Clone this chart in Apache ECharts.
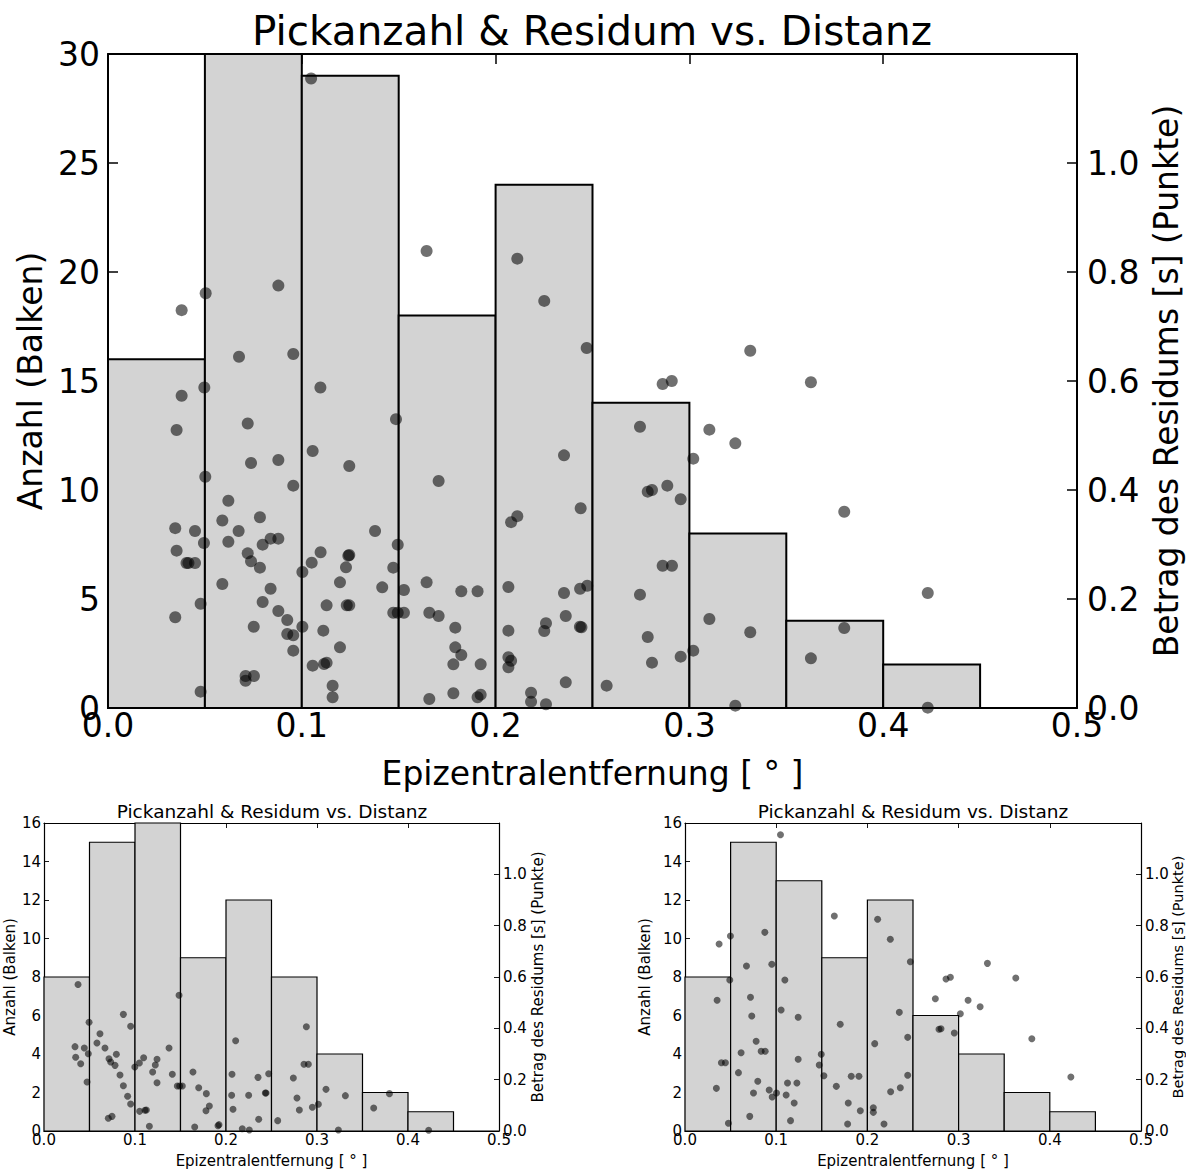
<!DOCTYPE html>
<html>
<head>
<meta charset="utf-8">
<script src="https://cdn.jsdelivr.net/npm/echarts@6/dist/echarts.min.js"></script>
<style>
html,body{margin:0;padding:0;background:#fff;}
#chart{width:1186px;height:1173px;}
</style>
</head>
<body>
<div id="chart"></div>
<script>
// ---------- DATA ----------
const chartTitle = 'Pickanzahl & Residum vs. Distanz';
const xName = 'Epizentralentfernung [ ° ]';
const yLeftName = 'Anzahl (Balken)';
const yRightName = 'Betrag des Residums [s] (Punkte)';

const binEdges = [0.00, 0.05, 0.10, 0.15, 0.20, 0.25, 0.30, 0.35, 0.40, 0.45, 0.50];
const countsTop   = [16, 30, 29, 18, 24, 14, 8, 4, 2, 0];
const countsLeft  = [8, 15, 16, 9, 12, 8, 4, 2, 1, 0];
const countsRight = [8, 15, 13, 9, 12, 6, 4, 2, 1, 0];

// [distance in deg, |residual| in s]
const pointsTop = [
 [0.1048,1.155],[0.038,0.730],[0.0504,0.761],[0.0879,0.775],[0.1644,0.8385],[0.2112,0.8245],[0.2251,0.747],
 [0.247,0.6606],[0.0676,0.6446],[0.0956,0.6495],[0.0497,0.588],[0.038,0.573],[0.1096,0.588],
 [0.3314,0.6556],[0.2862,0.5945],[0.2909,0.600],[0.3627,0.5976],
 [0.0354,0.510],[0.0721,0.522],[0.0738,0.4495],[0.0879,0.455],[0.0502,0.4244],[0.0956,0.408],[0.1056,0.4716],
 [0.1245,0.444],[0.1486,0.530],[0.1706,0.4165],[0.2353,0.4636],[0.2439,0.3664],[0.208,0.341],[0.2112,0.352],
 [0.0621,0.3804],[0.059,0.344],[0.0784,0.350],[0.0347,0.330],[0.0449,0.3248],[0.0674,0.3248],[0.0621,0.305],
 [0.0495,0.3028],[0.0839,0.3107],[0.0879,0.3107],[0.0798,0.2997],[0.0354,0.2887],[0.0721,0.2838],[0.0738,0.2691],
 [0.0784,0.2575],[0.0405,0.266],[0.0415,0.266],[0.0449,0.266],[0.1378,0.3248],[0.1495,0.2997],[0.1245,0.2807],
 [0.1240,0.2795],[0.1097,0.2857],[0.1051,0.2667],[0.1003,0.2495],[0.1228,0.2581],[0.1472,0.2575],[0.059,0.2275],
 [0.0839,0.2189],[0.1197,0.2306],[0.1415,0.2214],[0.1527,0.2165],[0.1644,0.2306],[0.1823,0.214],[0.1907,0.214],
 [0.2066,0.222],[0.2353,0.211],[0.2436,0.2189],[0.2473,0.2244],[0.0478,0.1914],[0.0798,0.1945],[0.1128,0.1884],
 [0.1232,0.1884],[0.1245,0.1884],[0.1472,0.1749],[0.1495,0.1749],[0.1527,0.1749],[0.1658,0.1749],[0.1706,0.1688],
 [0.0347,0.1664],[0.0879,0.178],[0.0925,0.1615],[0.2362,0.1688],[0.226,0.1554],[0.2251,0.1413],[0.2435,0.1492],
 [0.2443,0.1482],[0.0752,0.1492],[0.1003,0.1492],[0.1111,0.1419],[0.0925,0.1358],[0.0956,0.1334],[0.1792,0.1474],
 [0.2066,0.1419],[0.0956,0.1052],[0.1197,0.1113],[0.1792,0.1113],[0.1823,0.0972],[0.1782,0.0801],[0.1923,0.0801],
 [0.1056,0.0777],[0.1115,0.0807],[0.1128,0.0832],[0.2066,0.093],[0.208,0.0868],[0.2066,0.0747],[0.071,0.0587],
 [0.071,0.0501],[0.0753,0.0587],[0.1159,0.0410],[0.1159,0.0196],[0.0478,0.030],[0.1658,0.0165],[0.1782,0.027],
 [0.1907,0.0196],[0.1923,0.0245],[0.2183,0.0281],[0.2183,0.0116],[0.226,0.0068],[0.2362,0.0471],
 [0.2745,0.516],[0.3103,0.5107],[0.3237,0.4856],[0.302,0.4575],[0.2886,0.408],[0.2785,0.397],[0.2807,0.400],
 [0.2955,0.383],[0.3799,0.360],[0.2862,0.261],[0.291,0.261],[0.2745,0.208],[0.423,0.211],[0.3103,0.1633],
 [0.3314,0.1389],[0.3799,0.1468],[0.2785,0.1303],[0.302,0.1052],[0.2955,0.0942],[0.2807,0.0832],[0.3627,0.0911],
 [0.2573,0.0410],[0.3237,0.0043],[0.423,0.0006]
];

const pointsLeft = [
 [0.0374,0.571],[0.0341,0.3286],[0.0348,0.287],[0.0403,0.2623],[0.0443,0.3234],[0.0495,0.4234],[0.0487,0.3013],
 [0.0473,0.1909],[0.0582,0.3429],[0.0615,0.3792],[0.067,0.3234],[0.0714,0.2818],[0.0733,0.2688],[0.078,0.2558],
 [0.0795,0.2987],[0.0707,0.0494],[0.0747,0.0571],[0.0835,0.2182],[0.0872,0.4545],[0.0872,0.1766],[0.0919,0.1351],
 [0.0952,0.4078],[0.0952,0.1052],[0.0998,0.2494],[0.1048,0.2649],[0.1095,0.2857],[0.1051,0.0766],[0.111,0.0805],
 [0.1125,0.0818],[0.1158,0.0182],[0.1194,0.2299],[0.1223,0.2571],[0.1242,0.2792],[0.1242,0.1883],[0.1374,0.3234],
 [0.141,0.2208],[0.1484,0.5286],[0.1465,0.1753],[0.1491,0.1753],[0.152,0.1753],[0.1637,0.2299],[0.1656,0.0156],
 [0.17,0.1688],[0.1784,0.1455],[0.178,0.0792],[0.1817,0.0974],[0.1912,0.0208],[0.1923,0.0247],[0.2066,0.2208],
 [0.2106,0.3519],[0.2062,0.139],[0.2077,0.0844],[0.2179,0.0091],[0.2249,0.139],[0.2256,0.0039],[0.2352,0.209],
 [0.2359,0.0455],[0.2432,0.148],[0.2440,0.148],[0.2469,0.2232],[0.2568,0.0403],[0.2883,0.4064],[0.2857,0.26],
 [0.2905,0.26],[0.274,0.2065],[0.278,0.1286],[0.2806,0.0818],[0.2949,0.0922],[0.3015,0.104],[0.3099,0.1623],
 [0.3312,0.1377],[0.3235,0.004],[0.3623,0.0896],[0.3796,0.1455],[0.4227,0.0026]
];

const pointsRight = [
 [0.1047,1.1545],[0.0374,0.7286],[0.0498,0.7597],[0.0875,0.774],[0.1637,0.8377],[0.2112,0.8247],[0.2251,0.7468],
 [0.2471,0.6597],[0.0674,0.6429],[0.0952,0.6494],[0.0491,0.5883],[0.1095,0.5883],[0.0352,0.5091],[0.0718,0.5208],
 [0.0732,0.448],[0.1054,0.4714],[0.1241,0.4429],[0.1702,0.4156],[0.2350,0.4623],[0.078,0.3494],[0.0615,0.3052],
 [0.0399,0.2662],[0.0443,0.2662],[0.0835,0.3104],[0.0879,0.3104],[0.0586,0.2273],[0.0798,0.1935],[0.0344,0.1662],
 [0.0751,0.148],[0.0923,0.1597],[0.0956,0.1325],[0.1003,0.148],[0.0710,0.0571],[0.0476,0.0299],[0.1241,0.2792],
 [0.1124,0.187],[0.1227,0.187],[0.1109,0.1403],[0.1197,0.1091],[0.1157,0.0403],[0.1494,0.2987],[0.1472,0.2571],
 [0.1523,0.2156],[0.1659,0.174],[0.1823,0.213],[0.1907,0.213],[0.179,0.1091],[0.1922,0.0792],[0.1783,0.0273],
 [0.208,0.3403],[0.2065,0.0909],[0.2065,0.0727],[0.2182,0.0273],[0.2255,0.1532],[0.2361,0.1688],[0.2442,0.3649],
 [0.2442,0.2169],[0.3316,0.6532],[0.2862,0.5922],[0.291,0.5987],[0.3627,0.5961],[0.2745,0.5156],[0.3104,0.5091],
 [0.3236,0.4844],[0.3019,0.4571],[0.2785,0.3961],[0.2807,0.3987],[0.2953,0.3818],[0.3803,0.3597],[0.4231,0.2104]
];

// ---------- BUILD ----------
const FONT = '"DejaVu Sans", sans-serif';

function histData(counts) {
  return counts.map((c, i) => [binEdges[i], binEdges[i + 1], c]);
}

const panels = [
  { grid: {left:108, top:54, width:969, height:654}, counts: countsTop, points: pointsTop,
    fs: 33, tfs: 40.5, yMax: 30, yInt: 5, titleX: 592, titleTop: 10, sym: 12, lw: 2, axw: 2, tickLen: 10,
    xMargin: 1, yMargin: 8, rMargin: 10, xGap: 49, yGap: 60, rGap: 64, rMove: true, rFs: 33 },
  { grid: {left:44, top:823, width:455, height:308}, counts: countsLeft, points: pointsLeft,
    fs: 15, tfs: 18.5, yMax: 16, yInt: 2, titleX: 272, titleTop: 802, sym: 7, lw: 1.2, axw: 1.2, tickLen: 5,
    xMargin: 1, yMargin: 3, rMargin: 4, xGap: 22, yGap: 27, rGap: 30, rMove: true, rFs: 15 },
  { grid: {left:685, top:823, width:456, height:308}, counts: countsRight, points: pointsRight,
    fs: 15, tfs: 18.5, yMax: 16, yInt: 2, titleX: 913, titleTop: 802, sym: 7, lw: 1.2, axw: 1.2, tickLen: 5,
    xMargin: 1, yMargin: 3, rMargin: 4, xGap: 22, yGap: 33, rGap: 29, rMove: false, rFs: 14.5 }
];

const option = {
  animation: false,
  backgroundColor: '#fff',
  textStyle: { fontFamily: FONT, color: '#000' },
  title: [], grid: [], xAxis: [], yAxis: [], series: []
};

panels.forEach((p, k) => {
  option.title.push({
    text: chartTitle, left: p.titleX, top: p.titleTop, textAlign: 'center', padding: 0,
    textStyle: { fontFamily: FONT, fontSize: p.tfs, fontWeight: 'normal', color: '#000' }
  });
  option.grid.push(Object.assign({ show: false, containLabel: false, outerBoundsMode: 'none' }, p.grid));
  const lineStyle = { color: '#000', width: p.axw };
  const tick = { show: true, inside: true, length: p.tickLen, lineStyle: { color: '#000', width: p.axw * 0.75 } };
  // bottom x axis
  option.xAxis.push({
    gridIndex: k, type: 'value', min: 0, max: 0.5, interval: 0.1, position: 'bottom',
    axisLine: { show: true, onZero: false, lineStyle }, axisTick: tick, splitLine: { show: false },
    axisLabel: { fontFamily: FONT, fontSize: p.fs, color: '#000', margin: p.xMargin, formatter: v => v.toFixed(1) },
    name: xName, nameLocation: 'middle', nameGap: p.xGap,
    nameTextStyle: { fontFamily: FONT, fontSize: p.fs, color: '#000' }
  });
  // top x axis (frame + ticks)
  option.xAxis.push({
    gridIndex: k, type: 'value', min: 0, max: 0.5, interval: 0.1, position: 'top',
    axisLine: { show: true, onZero: false, lineStyle }, axisTick: tick, splitLine: { show: false },
    axisLabel: { show: false }
  });
  // left y axis (counts)
  option.yAxis.push({
    gridIndex: k, type: 'value', min: 0, max: p.yMax, interval: p.yInt, position: 'left',
    axisLine: { show: true, onZero: false, lineStyle }, axisTick: tick, splitLine: { show: false },
    axisLabel: { fontFamily: FONT, fontSize: p.fs, color: '#000', margin: p.yMargin },
    name: yLeftName, nameLocation: 'middle', nameRotate: 90, nameGap: p.yGap,
    nameTextStyle: { fontFamily: FONT, fontSize: p.fs, color: '#000' }
  });
  // right y axis (residual)
  option.yAxis.push({
    gridIndex: k, type: 'value', min: 0, max: 1.2, interval: 0.2, position: 'right',
    axisLine: { show: true, onZero: false, lineStyle }, axisTick: tick, splitLine: { show: false },
    axisLabel: { fontFamily: FONT, fontSize: p.fs, color: '#000', margin: p.rMargin,
      showMaxLabel: false, formatter: v => v.toFixed(1) },
    name: yRightName, nameLocation: 'middle', nameRotate: 90, nameGap: p.rGap,
    nameMoveOverlap: p.rMove,
    nameTextStyle: { fontFamily: FONT, fontSize: p.rFs, color: '#000' }
  });
  const lw = p.lw;
  option.series.push({
    type: 'custom', xAxisIndex: 2 * k, yAxisIndex: 2 * k, z: 2,
    data: histData(p.counts),
    dimensions: ['x0', 'x1', 'count'],
    encode: { x: [0, 1], y: 2 },
    renderItem: function (params, api) {
      const p0 = api.coord([api.value(0), 0]);
      const p1 = api.coord([api.value(1), api.value(2)]);
      return {
        type: 'rect',
        shape: { x: p0[0], y: p1[1], width: p1[0] - p0[0], height: p0[1] - p1[1] },
        style: { fill: '#d3d3d3', stroke: '#000', lineWidth: lw }
      };
    }
  });
  option.series.push({
    type: 'scatter', xAxisIndex: 2 * k, yAxisIndex: 2 * k + 1, z: 3,
    data: p.points, symbol: 'circle', symbolSize: p.sym, clip: true,
    itemStyle: { color: 'rgba(0,0,0,0.7)', borderWidth: 0 },
    emphasis: { disabled: true }
  });
});

const chart = echarts.init(document.getElementById('chart'), null, { renderer: 'svg' });
chart.setOption(option);
</script>
</body>
</html>
